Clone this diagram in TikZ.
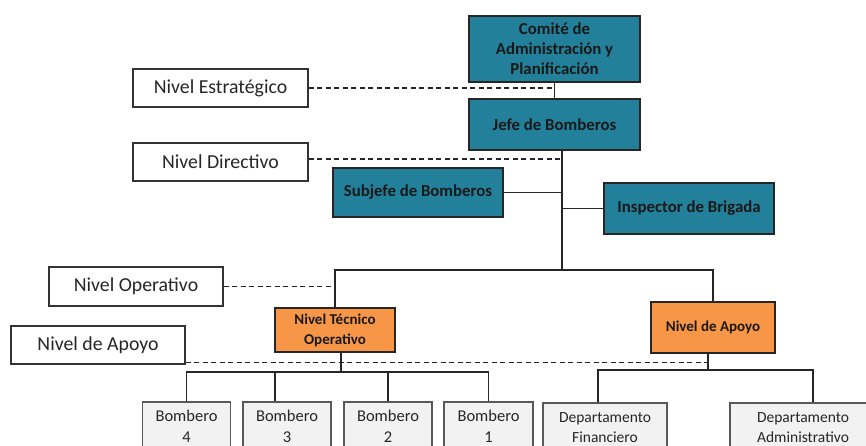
\documentclass[tikz,border=0pt]{standalone}
\usepackage{fontspec}
\setmainfont{Carlito}
\usetikzlibrary{positioning,calc}
\definecolor{tealbox}{HTML}{23809A}
\definecolor{orangebox}{HTML}{F79646}
\definecolor{greybox}{HTML}{F2F2F2}
\definecolor{greyline}{HTML}{595959}
\definecolor{darkline}{HTML}{262626}
\tikzset{
  every node/.style={inner sep=0pt, align=center},
  base/.style={draw=darkline, line width=1.3pt, rectangle},
  tealnode/.style={base, fill=tealbox, font=\fontsize{16.8}{20}\selectfont\bfseries, text=black!90},
  orangenode/.style={base, fill=orangebox, font=\fontsize{15}{20}\selectfont\bfseries, text=black!90},
  greynode/.style={base, draw=greyline, fill=greybox, font=\fontsize{16.5}{21}\selectfont, text=black!85},
  deptnode/.style={greynode, font=\fontsize{15.5}{20}\selectfont},
  levelnode/.style={base, draw=black!80, fill=white, font=\fontsize{19.8}{22}\selectfont, text=black!85},
  conn/.style={line width=1.3pt, draw=darkline},
  dashconn/.style={line width=1.1pt, draw=darkline, dash pattern=on 5pt off 3.5pt},
}
\begin{document}
\begin{tikzpicture}[x=1pt,y=1pt]
\useasboundingbox (0,0) rectangle (866,-446);
\clip (0,0) rectangle (866,-446);
\fill[white] (0,0) rectangle (866,-446);
% level labels
\node[levelnode, minimum width=175, minimum height=38] (estr) at (220.5,-88) {Nivel Estratégico};
\node[levelnode, minimum width=175, minimum height=38] (dir) at (220.5,-162) {Nivel Directivo};
\node[levelnode, minimum width=174, minimum height=39] (oper) at (136,-286.5) {Nivel Operativo};
\node[levelnode, minimum width=174, minimum height=38] (apl) at (98,-345) {Nivel de Apoyo};
% teal boxes
\node[tealnode, minimum width=171, minimum height=66] (comite) at (554.5,-49) {Comité de\\Administración y\\Planificación};
\node[tealnode, minimum width=171, minimum height=51] (jefe) at (554.5,-124.5) {Jefe de Bomberos};
\node[tealnode, minimum width=170, minimum height=49] (sub) at (418,-192.5) {Subjefe de Bomberos};
\node[tealnode, minimum width=170, minimum height=51] (insp) at (689,-208.5) {Inspector de Brigada};
% orange boxes
\node[orangenode, minimum width=120, minimum height=44] (tec) at (335,-330) {Nivel Técnico\\Operativo};
\node[orangenode, minimum width=124, minimum height=51] (apo) at (713,-327.5) {Nivel de Apoyo};
% grey boxes
\node[greynode, minimum width=88, minimum height=48] (b4) at (186.5,-426) {Bombero\\4};
\node[greynode, minimum width=88, minimum height=48] (b3) at (287,-426) {Bombero\\3};
\node[greynode, minimum width=88, minimum height=48] (b2) at (388,-426) {Bombero\\2};
\node[greynode, minimum width=89, minimum height=48] (b1) at (488.5,-426) {Bombero\\1};
\node[deptnode, minimum width=124, minimum height=50] (dfin) at (605,-428) {Departamento\\Financiero};
\node[deptnode, minimum width=146, minimum height=50] (dadm) at (803,-428) {Departamento\\Administrativo};
% coordinates
\coordinate (trunk) at ($(jefe.south)+(7.5,0)$);
\coordinate (hub) at (562,-270);
\coordinate (tecdown) at ($(tec.south)+(6,0)$);
\coordinate (tecbus) at (341,-372);
\coordinate (apodown) at ($(apo.south)+(-5,0)$);
\coordinate (apobus) at (708,-370);
\coordinate (aplend) at ($(apl.south east)+(0,2)$);
% solid connectors
\draw[conn] (comite.south) -- (jefe.north);
\draw[conn] (trunk) -- (hub);
\draw[conn] (sub.east) -- (sub.east -| trunk);
\draw[conn] (insp.west) -- (insp.west -| trunk);
\draw[conn] (tec.north) |- (hub) -| (apo.north);
\draw[conn] (tecdown) -- (tecbus);
\draw[conn] (b4.north) |- (tecbus) -| (b1.north);
\draw[conn] ([xshift=-12pt]b3.north) -- ([xshift=-12pt]b3.north |- tecbus);
\draw[conn] (b2.north) -- (b2.north |- tecbus);
\draw[conn] (apodown) -- (apobus);
\draw[conn] ([xshift=-7pt]dfin.north) |- (apobus) -| ([xshift=10pt]dadm.north);
% dashed level lines
\draw[dashconn] (estr.east) -- (estr.east -| comite.south);
\draw[dashconn] ([yshift=3pt]dir.east) -- ([yshift=3pt]dir.east -| trunk);
\draw[dashconn] (oper.east) -- (oper.east -| tec.north);
\draw[dashconn] (aplend) -- (aplend -| apodown);
\end{tikzpicture}
\end{document}
